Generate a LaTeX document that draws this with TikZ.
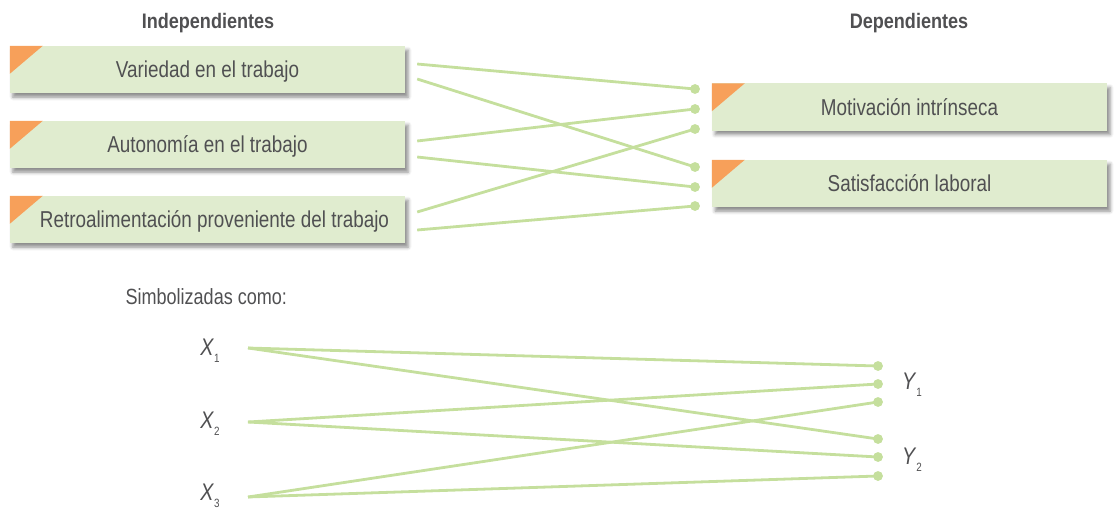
\documentclass[tikz,border=0pt]{standalone}
\usepackage{fontspec}
\setmainfont{Liberation Sans}[FakeStretch=0.82,BoldFeatures={FakeStretch=0.86}]
\usetikzlibrary{calc,shadows.blur}
\definecolor{boxfill}{HTML}{E0ECCF}
\definecolor{linkgreen}{HTML}{C5DF9D}
\definecolor{cornerorange}{HTML}{F7A05A}
\definecolor{txtgray}{HTML}{505052}
\tikzset{
  varbox/.style={fill=boxfill, minimum width=395pt, minimum height=47pt, inner sep=0pt,
    text height=16.5pt, text depth=0pt,
    text=txtgray, font=\fontsize{23}{27}\selectfont,
    blur shadow={shadow xshift=3pt, shadow yshift=-4pt, shadow blur radius=3.5pt, shadow opacity=45}},
  link/.style={draw=linkgreen, line width=2.8pt},
  enddot/.style={circle, fill=linkgreen, minimum size=9.5pt, inner sep=0pt},
  header/.style={text=txtgray, font=\bfseries\fontsize{21}{25}\selectfont},
  plain/.style={text=txtgray, font=\fontsize{22}{26}\selectfont},
  sym/.style={text=txtgray, font=\fontsize{24}{28}\selectfont, inner sep=0pt}
}
\newcommand{\corner}[1]{\fill[cornerorange] (#1.north west) -- ++(33,0) -- ++(-33,28) -- cycle;}
\newcommand{\symb}[2]{\textit{#1}\raisebox{-7pt}{\fontsize{12}{12}\selectfont #2}}
\begin{document}
\begin{tikzpicture}[x=1pt,y=-1pt]
\useasboundingbox (0,0) rectangle (1120,511);
% headers
\node[header] (hind) at (208,23) {Independientes};
\node[header] (hdep) at (909,23) {Dependientes};
% left boxes
\node[varbox] (b1) at (207.5,69.5) {Variedad en el trabajo};
\node[varbox] (b2) at (207.5,144.5) {Autonomía en el trabajo};
\node[varbox] (b3) at (207.5,219.5) {\hspace*{14pt}Retroalimentación proveniente del trabajo};
% right boxes
\node[varbox] (r1) at (909.5,107) {Motivación intrínseca};
\node[varbox] (r2) at (909.5,183.5) {Satisfacción laboral};
\corner{b1}\corner{b2}\corner{b3}\corner{r1}\corner{r2}
% top dots
\node[enddot] (d1) at (695,89) {};
\node[enddot] (d2) at (695,109) {};
\node[enddot] (d3) at (695,129) {};
\node[enddot] (d4) at (695,167) {};
\node[enddot] (d5) at (695,187) {};
\node[enddot] (d6) at (695,206) {};
% top links
\draw[link] ($(b1.east)+(12,-5.5)$) -- (d1.center);
\draw[link] ($(b1.east)+(12,9.5)$) -- (d4.center);
\draw[link] ($(b2.east)+(12,-3.5)$) -- (d2.center);
\draw[link] ($(b2.east)+(12,12.5)$) -- (d5.center);
\draw[link] ($(b3.east)+(12,-7.5)$) -- (d3.center);
\draw[link] ($(b3.east)+(12,10.5)$) -- (d6.center);
\foreach \d in {d1,d2,d3,d4,d5,d6} {\fill[linkgreen] (\d) circle (4.75);}
% symbolized
\node[plain, anchor=west] (simb) at (122,297) {Simbolizadas como:};
\node[sym] (x1) at (210,351) {\symb{X}{1}};
\node[sym] (x2) at (210,424) {\symb{X}{2}};
\node[sym] (x3) at (210,496) {\symb{X}{3}};
\node[sym] (y1) at (912,385) {\symb{Y}{1}};
\node[sym] (y2) at (912,460) {\symb{Y}{2}};
\coordinate (sx1) at (248,348);
\coordinate (sx2) at (248,422);
\coordinate (sx3) at (248,497);
\node[enddot] (e1) at (878,366) {};
\node[enddot] (e2) at (878,384) {};
\node[enddot] (e3) at (878,402) {};
\node[enddot] (e4) at (878,439) {};
\node[enddot] (e5) at (878,457) {};
\node[enddot] (e6) at (878,476) {};
\draw[link] (sx1) -- (e1.center);
\draw[link] (sx1) -- (e4.center);
\draw[link] (sx2) -- (e2.center);
\draw[link] (sx2) -- (e5.center);
\draw[link] (sx3) -- (e3.center);
\draw[link] (sx3) -- (e6.center);
\foreach \d in {e1,e2,e3,e4,e5,e6} {\fill[linkgreen] (\d) circle (4.75);}
\end{tikzpicture}
\end{document}
